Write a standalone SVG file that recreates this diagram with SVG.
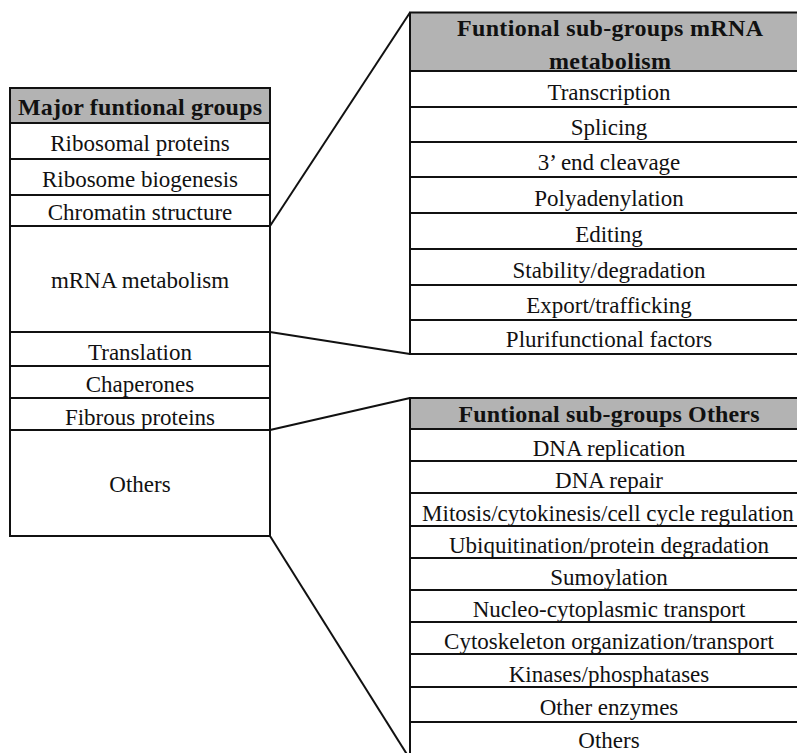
<svg xmlns="http://www.w3.org/2000/svg" width="797" height="753" viewBox="0 0 797 753">
<style>
  .cell { fill: #ffffff; stroke: #111111; stroke-width: 2; }
  .head { fill: #b3b3b3; stroke: #111111; stroke-width: 2; }
  .t { font-family: "Liberation Serif", "Times New Roman", serif; font-size: 23px; fill: #111111; text-anchor: middle; }
  .b { font-weight: bold; font-size: 24px; }
  .conn { stroke: #111111; stroke-width: 2; fill: none; }
</style>
<rect x="0" y="0" width="797" height="753" fill="#ffffff"/>

<g id="connectors">
  <line class="conn" x1="270" y1="226" x2="410" y2="12.5"/>
  <line class="conn" x1="270" y1="332" x2="410" y2="354"/>
  <line class="conn" x1="270" y1="430" x2="410" y2="398"/>
  <line class="conn" x1="270" y1="536" x2="408" y2="756"/>
</g>

<g id="major-groups">
  <g id="major-header"><rect class="head" x="10" y="88" width="260" height="35"/><text class="t b" x="140" y="115" textLength="244" lengthAdjust="spacing">Major funtional groups</text></g>
  <g id="major-ribosomal-proteins"><rect class="cell" x="10" y="123" width="260" height="36"/><text class="t" x="140" y="151">Ribosomal proteins</text></g>
  <g id="major-ribosome-biogenesis"><rect class="cell" x="10" y="159" width="260" height="36"/><text class="t" x="140" y="187">Ribosome biogenesis</text></g>
  <g id="major-chromatin"><rect class="cell" x="10" y="195" width="260" height="31"/><text class="t" x="140" y="220">Chromatin structure</text></g>
  <g id="major-mrna"><rect class="cell" x="10" y="226" width="260" height="106"/><text class="t" x="140" y="288">mRNA metabolism</text></g>
  <g id="major-translation"><rect class="cell" x="10" y="332" width="260" height="34"/><text class="t" x="140" y="360">Translation</text></g>
  <g id="major-chaperones"><rect class="cell" x="10" y="366" width="260" height="32"/><text class="t" x="140" y="392">Chaperones</text></g>
  <g id="major-fibrous"><rect class="cell" x="10" y="398" width="260" height="32"/><text class="t" x="140" y="425">Fibrous proteins</text></g>
  <g id="major-others"><rect class="cell" x="10" y="430" width="260" height="106"/><text class="t" x="140" y="492">Others</text></g>
</g>

<g id="mrna-subgroups">
  <g id="mrna-header"><rect class="head" x="410" y="12.5" width="410" height="58.5"/><text class="t b" x="610" y="36" textLength="306" lengthAdjust="spacing">Funtional sub-groups mRNA</text><text class="t b" x="610" y="69" textLength="122" lengthAdjust="spacing">metabolism</text></g>
  <g id="mrna-transcription"><rect class="cell" x="410" y="71" width="410" height="36"/><text class="t" x="609" y="100">Transcription</text></g>
  <g id="mrna-splicing"><rect class="cell" x="410" y="107" width="410" height="35"/><text class="t" x="609" y="135">Splicing</text></g>
  <g id="mrna-cleavage"><rect class="cell" x="410" y="142" width="410" height="35"/><text class="t" x="609" y="170">3’ end cleavage</text></g>
  <g id="mrna-polyadenylation"><rect class="cell" x="410" y="177" width="410" height="36"/><text class="t" x="609" y="206">Polyadenylation</text></g>
  <g id="mrna-editing"><rect class="cell" x="410" y="213" width="410" height="36"/><text class="t" x="609" y="242">Editing</text></g>
  <g id="mrna-stability"><rect class="cell" x="410" y="249" width="410" height="36"/><text class="t" x="609" y="278">Stability/degradation</text></g>
  <g id="mrna-export"><rect class="cell" x="410" y="285" width="410" height="35"/><text class="t" x="609" y="313">Export/trafficking</text></g>
  <g id="mrna-plurifunctional"><rect class="cell" x="410" y="320" width="410" height="34"/><text class="t" x="609" y="347">Plurifunctional factors</text></g>
</g>

<g id="others-subgroups">
  <g id="others-header"><rect class="head" x="410" y="398" width="410" height="31"/><text class="t b" x="609" y="422" textLength="301" lengthAdjust="spacing">Funtional sub-groups Others</text></g>
  <g id="others-dna-replication"><rect class="cell" x="410" y="429" width="410" height="32"/><text class="t" x="609" y="456">DNA replication</text></g>
  <g id="others-dna-repair"><rect class="cell" x="410" y="461" width="410" height="32"/><text class="t" x="609" y="488">DNA repair</text></g>
  <g id="others-mitosis"><rect class="cell" x="410" y="493" width="410" height="33"/><text class="t" x="608" y="521">Mitosis/cytokinesis/cell cycle regulation</text></g>
  <g id="others-ubiquitination"><rect class="cell" x="410" y="526" width="410" height="32"/><text class="t" x="609" y="553">Ubiquitination/protein degradation</text></g>
  <g id="others-sumoylation"><rect class="cell" x="410" y="558" width="410" height="32"/><text class="t" x="609" y="585">Sumoylation</text></g>
  <g id="others-nucleo"><rect class="cell" x="410" y="590" width="410" height="32"/><text class="t" x="609" y="617">Nucleo-cytoplasmic transport</text></g>
  <g id="others-cytoskeleton"><rect class="cell" x="410" y="622" width="410" height="32"/><text class="t" x="609" y="649">Cytoskeleton organization/transport</text></g>
  <g id="others-kinases"><rect class="cell" x="410" y="654" width="410" height="33"/><text class="t" x="609" y="682">Kinases/phosphatases</text></g>
  <g id="others-enzymes"><rect class="cell" x="410" y="687" width="410" height="35"/><text class="t" x="609" y="715">Other enzymes</text></g>
  <g id="others-others"><rect class="cell" x="410" y="722" width="410" height="40"/><text class="t" x="609" y="748">Others</text></g>
</g>
</svg>
